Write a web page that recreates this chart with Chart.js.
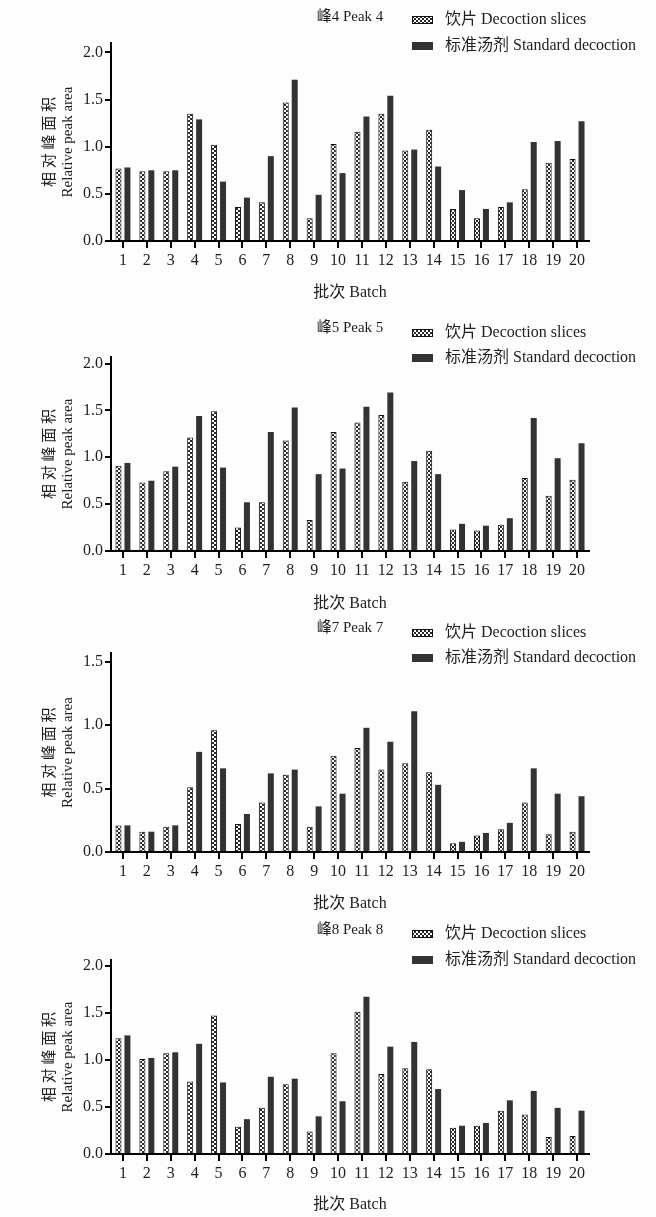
<!DOCTYPE html>
<html>
<head>
<meta charset="utf-8">
<script src="https://cdn.jsdelivr.net/npm/chart.js@4.4.1/dist/chart.umd.min.js"></script>
<style>
  body { margin: 0; background: #fdfdfd; }
  #wrap { position: relative; width: 656px; height: 1217px; overflow: hidden; }
  #wrap canvas { position: absolute; left: 0; }
</style>
</head>
<body>
<div id="wrap">
  <canvas id="peak4"></canvas>
  <canvas id="peak5"></canvas>
  <canvas id="peak7"></canvas>
  <canvas id="peak8"></canvas>
</div>
<script>
const batches = ['1', '2', '3', '4', '5', '6', '7', '8', '9', '10',
                 '11', '12', '13', '14', '15', '16', '17', '18', '19', '20'];
const seriesNames = ['饮片 Decoction slices', '标准汤剂 Standard decoction'];

const peak4Slices   = [0.77, 0.74, 0.74, 1.35, 1.02, 0.36, 0.41, 1.47, 0.24, 1.03, 1.16, 1.35, 0.96, 1.18, 0.34, 0.24, 0.36, 0.55, 0.83, 0.87];
const peak4Standard = [0.78, 0.75, 0.75, 1.29, 0.63, 0.46, 0.90, 1.71, 0.49, 0.72, 1.32, 1.54, 0.97, 0.79, 0.54, 0.34, 0.41, 1.05, 1.06, 1.27];
const peak5Slices   = [0.91, 0.73, 0.85, 1.21, 1.49, 0.25, 0.52, 1.18, 0.33, 1.27, 1.37, 1.45, 0.74, 1.07, 0.23, 0.22, 0.28, 0.78, 0.59, 0.76];
const peak5Standard = [0.94, 0.75, 0.90, 1.44, 0.89, 0.52, 1.27, 1.53, 0.82, 0.88, 1.54, 1.69, 0.96, 0.82, 0.29, 0.27, 0.35, 1.42, 0.99, 1.15];
const peak7Slices   = [0.21, 0.16, 0.20, 0.51, 0.96, 0.22, 0.39, 0.61, 0.20, 0.76, 0.82, 0.65, 0.70, 0.63, 0.07, 0.13, 0.18, 0.39, 0.14, 0.16];
const peak7Standard = [0.21, 0.16, 0.21, 0.79, 0.66, 0.30, 0.62, 0.65, 0.36, 0.46, 0.98, 0.87, 1.11, 0.53, 0.08, 0.15, 0.23, 0.66, 0.46, 0.44];
const peak8Slices   = [1.23, 1.01, 1.07, 0.77, 1.47, 0.29, 0.49, 0.74, 0.24, 1.07, 1.51, 0.85, 0.91, 0.90, 0.28, 0.30, 0.46, 0.42, 0.18, 0.19];
const peak8Standard = [1.26, 1.02, 1.08, 1.17, 0.76, 0.37, 0.82, 0.80, 0.40, 0.56, 1.67, 1.14, 1.19, 0.69, 0.30, 0.33, 0.57, 0.67, 0.49, 0.46];

const ticksTo2 = [0, 0.5, 1.0, 1.5, 2.0];
const ticksTo15 = [0, 0.5, 1.0, 1.5];

const FONT_FAMILY = "'Liberation Serif', 'Noto Sans CJK SC', serif";
const FONT_SIZE = 16;
const TITLE_SIZE = 15;
const TEXT = '#1e1e1e';

// checkered fill for the decoction slices bars
function checkerPattern() {
    const c = document.createElement('canvas');
    c.width = 4; c.height = 4;
    const g = c.getContext('2d');
    g.fillStyle = '#ffffff';
    g.fillRect(0, 0, 4, 4);
    g.fillStyle = '#262626';
    g.fillRect(0, 0, 2, 2);
    g.fillRect(2, 2, 2, 2);
    return g.createPattern(c, 'repeat');
}
const checker = checkerPattern();

// title and legend sit in the top band, drawn by hand
const headerPlugin = {
    id: 'header',
    afterDraw(chart, args, opts) {
        const ctx = chart.ctx;
        const area = chart.chartArea;
        ctx.save();
        ctx.textBaseline = 'middle';
        ctx.fillStyle = TEXT;
        ctx.font = TITLE_SIZE + 'px ' + FONT_FAMILY;
        ctx.textAlign = 'center';
        ctx.fillText(opts.title, (area.left + area.right) / 2, opts.titleY);
        ctx.font = FONT_SIZE + 'px ' + FONT_FAMILY;
        ctx.textAlign = 'left';
        chart.data.datasets.forEach((ds, i) => {
            const y = opts.legendY[i];
            ctx.fillStyle = ds.backgroundColor;
            ctx.fillRect(412, y - 4, 21, 8);
            if (ds.borderWidth) {
                ctx.strokeStyle = ds.borderColor;
                ctx.lineWidth = 1;
                ctx.strokeRect(412.5, y - 3.5, 20, 7);
            }
            ctx.fillStyle = TEXT;
            ctx.fillText(ds.label, 445, y);
        });
        ctx.restore();
    }
};

const panels = [
    { id: 'peak4', title: '峰4 Peak 4', slices: peak4Slices, standard: peak4Standard, yTicks: ticksTo2,
      top: 0, height: 310, plotTop: 43, plotBottom: 241, batchY: 292, yMax: 2.1, titleY: 17, legendY: [20, 46] },
    { id: 'peak5', title: '峰5 Peak 5', slices: peak5Slices, standard: peak5Standard, yTicks: ticksTo2,
      top: 310, height: 310, plotTop: 47, plotBottom: 241, batchY: 293, yMax: 2.07, titleY: 18, legendY: [23, 48] },
    { id: 'peak7', title: '峰7 Peak 7', slices: peak7Slices, standard: peak7Standard, yTicks: ticksTo15,
      top: 610, height: 310, plotTop: 43, plotBottom: 242, batchY: 293, yMax: 1.57, titleY: 18, legendY: [23, 48] },
    { id: 'peak8', title: '峰8 Peak 8', slices: peak8Slices, standard: peak8Standard, yTicks: ticksTo2,
      top: 917, height: 300, plotTop: 43, plotBottom: 237, batchY: 287, yMax: 2.06, titleY: 13, legendY: [17, 43] }
];

const PLOT_LEFT = 111;
const PLOT_RIGHT = 589;

panels.forEach(p => {
    const canvas = document.getElementById(p.id);
    canvas.width = 656;
    canvas.height = p.height;
    canvas.style.top = p.top + 'px';
    const axisBottom = p.batchY + 14;

    new Chart(canvas.getContext('2d'), {
        type: 'bar',
        data: {
            labels: batches,
            datasets: [{
                label: seriesNames[0],
                data: p.slices,
                backgroundColor: checker,
                borderColor: '#111111',
                borderWidth: 1,
                categoryPercentage: 0.75,
                barPercentage: 0.67
            }, {
                label: seriesNames[1],
                data: p.standard,
                backgroundColor: '#333333',
                borderWidth: 0,
                categoryPercentage: 0.75,
                barPercentage: 0.67
            }]
        },
        options: {
            responsive: false,
            animation: false,
            layout: {
                padding: { top: p.plotTop, left: 0, right: 656 - PLOT_RIGHT, bottom: p.height - axisBottom }
            },
            plugins: {
                legend: { display: false },
                tooltip: { enabled: false },
                header: { title: p.title, titleY: p.titleY, legendY: p.legendY }
            },
            scales: {
                x: {
                    afterFit: s => { s.height = axisBottom - p.plotBottom; },
                    grid: { offset: false, drawOnChartArea: false, tickLength: 7, lineWidth: 2, color: '#000' },
                    border: { display: true, color: '#000', width: 2 },
                    ticks: { color: TEXT, font: { family: FONT_FAMILY, size: FONT_SIZE }, padding: 3,
                             autoSkip: false, maxRotation: 0 },
                    title: { display: true, text: '批次 Batch', color: TEXT,
                             font: { family: FONT_FAMILY, size: FONT_SIZE }, padding: { top: 0, bottom: 4 } }
                },
                y: {
                    min: 0,
                    max: p.yMax,
                    afterFit: s => { s.width = PLOT_LEFT; },
                    afterBuildTicks: s => { s.ticks = p.yTicks.map(v => ({ value: v })); },
                    grid: { drawOnChartArea: false, tickLength: 6, lineWidth: 2, color: '#000' },
                    border: { display: true, color: '#000', width: 2 },
                    ticks: { color: TEXT, font: { family: FONT_FAMILY, size: FONT_SIZE }, padding: 2,
                             callback: v => Number(v).toFixed(1) },
                    title: { display: true, text: ['相 对 峰 面 积', 'Relative peak area'], color: TEXT,
                             font: { family: FONT_FAMILY, size: TITLE_SIZE }, padding: { top: 41, bottom: 0 } }
                }
            }
        },
        plugins: [headerPlugin]
    });
});
</script>
</body>
</html>
